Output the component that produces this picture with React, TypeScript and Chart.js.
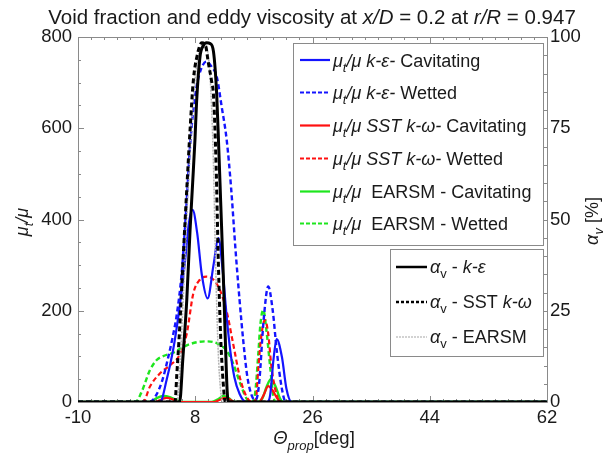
import React, { useEffect, useRef } from 'react';
import { Chart, registerables } from 'chart.js';
Chart.register(...registerables);

const FONT = "'Liberation Sans', Arial, sans-serif";

// ---- axis ticks ----
const xTicks = [-10, 8, 26, 44, 62];
const muTicks = [0, 200, 400, 600, 800];
const alphaTicks = [0, 25, 50, 75, 100];

// ---- eddy viscosity ratio series (left axis) ----
const kEpsCavX = [-10, 2.6, 3.6, 4.6, 5.4, 6.4, 7.0, 7.6, 8.3, 9.0, 9.9, 10.8, 11.55, 12.2, 12.8, 13.4, 14.0, 14.8, 15.8, 19.0, 19.5, 20.0, 20.5, 21.3, 22.0, 22.8, 62];
const kEpsCavY = [0, 0, 48, 114, 187, 304, 390, 421, 370, 280, 227, 300, 359, 290, 190, 110, 55, 18, 0, 0, 15, 92, 138, 99, 29, 0, 0];

const kEpsWetX = [-10, 1.0, 2.0, 3.0, 3.8, 4.5, 5.2, 5.9, 6.6, 7.2, 7.7, 8.2, 8.9, 9.7, 10.5, 11.3, 12.06, 12.83, 13.5, 14.2, 14.8, 15.4, 16.0, 16.8, 17.3, 17.8, 18.5, 19.2, 19.9, 20.5, 21.3, 21.9, 62];
const kEpsWetY = [0, 0, 15, 50, 95, 140, 195, 280, 420, 560, 640, 691, 730, 746, 735, 713, 647, 574, 470, 330, 224, 130, 55, 10, 5, 40, 180, 253, 200, 114, 29, 0, 0];

const sstCavX = [-10, 1.8, 2.7, 3.6, 4.5, 5.4, 10.8, 11.8, 12.6, 13.4, 14.0, 17.8, 18.5, 19.2, 19.9, 20.6, 21.2, 62];
const sstCavY = [0, 0, 5, 9, 6, 0, 0, 5, 9, 5, 0, 0, 15, 35, 25, 8, 0, 0];

const sstWetX = [-10, 0, 1.05, 2.6, 4.1, 5.66, 6.7, 7.7, 8.7, 9.75, 10.8, 11.8, 12.8, 13.8, 14.9, 15.9, 16.8, 17.3, 17.7, 18.1, 18.7, 19.2, 19.7, 20.5, 21.0, 62];
const sstWetY = [0, 0, 34, 63, 80, 105, 150, 238, 268, 275, 268, 245, 200, 129, 51, 11, 0, 5, 77, 140, 180, 150, 77, 15, 0, 0];

const earsmCavX = [-10, 1.0, 2.0, 3.1, 4.2, 5.3, 6.0, 10.5, 11.5, 12.3, 13.2, 14.0, 17.5, 18.3, 19.0, 19.6, 20.3, 21.0, 21.5, 62];
const earsmCavY = [0, 0, 8, 13, 10, 3, 0, 0, 6, 13, 8, 0, 0, 8, 35, 50, 35, 8, 0, 0];

const earsmWetX = [-10, -1.2, -0.3, 1.05, 2.08, 3.0, 4.6, 6.2, 8.2, 9.75, 11.3, 12.3, 12.8, 13.8, 14.9, 15.9, 16.7, 17.2, 17.7, 18.0, 18.45, 18.9, 19.5, 19.9, 20.3, 62];
const earsmWetY = [0, 0, 20, 70, 92, 100, 108, 121, 131, 133, 129, 120, 114, 85, 41, 7, 0, 20, 110, 170, 202, 160, 77, 22, 0, 0];

// ---- void fraction series (right axis, %) ----
const alphaKEpsX = [-10, 5.6, 6.1, 6.7, 7.2, 7.6, 7.96, 8.2, 8.73, 9.2, 9.75, 10.3, 10.8, 11.3, 11.6, 11.9, 12.3, 12.6, 12.9, 13.1, 62];
const alphaKEpsY = [0, 0, 12, 28, 47, 60, 72, 82, 94.6, 97.5, 98.4, 98.2, 96, 84, 70, 55, 35, 18, 3, 0, 0];

const alphaSstX = [-10, 4.9, 5.15, 5.6, 6.1, 6.9, 7.2, 7.7, 8.3, 9.0, 9.6, 10.0, 10.5, 10.8, 11.2, 11.55, 11.9, 12.3, 12.6, 62];
const alphaSstY = [0, 0, 7, 20, 38, 65, 74.5, 88, 95, 98.4, 97.5, 93, 88, 84, 65, 38, 18, 5, 0, 0];

const alphaEarsmX = [-10, 5.2, 5.6, 6.2, 7.0, 7.8, 8.6, 9.4, 10.0, 10.4, 10.8, 11.1, 11.5, 11.9, 12.2, 62];
const alphaEarsmY = [0, 0, 8, 30, 62, 85, 96, 98, 95, 85, 65, 40, 15, 3, 0, 0];

type Part = { t: string; it?: boolean; sub?: boolean };

const BLUE = '#1414ff';
const RED = '#ff1010';
const GREEN = '#1ee61e';

const series = [
  { xs: alphaKEpsX, ys: alphaKEpsY, color: '#000000', width: 3, dash: [] as number[], axis: 'y1' },
  { xs: alphaSstX, ys: alphaSstY, color: '#000000', width: 3, dash: [5, 3], axis: 'y1' },
  { xs: alphaEarsmX, ys: alphaEarsmY, color: '#b4b4b4', width: 1.5, dash: [2, 1], axis: 'y1' },
  { xs: kEpsCavX, ys: kEpsCavY, color: BLUE, width: 2.2, dash: [] as number[], axis: 'y' },
  { xs: kEpsWetX, ys: kEpsWetY, color: BLUE, width: 2.4, dash: [5, 3], axis: 'y' },
  { xs: sstCavX, ys: sstCavY, color: RED, width: 2.2, dash: [] as number[], axis: 'y' },
  { xs: sstWetX, ys: sstWetY, color: RED, width: 2.2, dash: [5, 3], axis: 'y' },
  { xs: earsmCavX, ys: earsmCavY, color: GREEN, width: 2.4, dash: [] as number[], axis: 'y' },
  { xs: earsmWetX, ys: earsmWetY, color: GREEN, width: 2.4, dash: [5, 3], axis: 'y' },
];

const mu: Part[] = [{ t: 'μ', it: true }, { t: 't', it: true, sub: true }, { t: '/μ', it: true }];

const legend1 = [
  { color: BLUE, dash: [] as number[], parts: [...mu, { t: ' k-ε-', it: true }, { t: ' Cavitating' }] },
  { color: BLUE, dash: [4, 2], parts: [...mu, { t: ' k-ε-', it: true }, { t: ' Wetted' }] },
  { color: RED, dash: [] as number[], parts: [...mu, { t: ' SST k-ω-', it: true }, { t: ' Cavitating' }] },
  { color: RED, dash: [4, 2], parts: [...mu, { t: ' SST k-ω-', it: true }, { t: ' Wetted' }] },
  { color: GREEN, dash: [] as number[], parts: [...mu, { t: '  EARSM - Cavitating' }] },
  { color: GREEN, dash: [4, 2], parts: [...mu, { t: '  EARSM - Wetted' }] },
];

const alphaV: Part[] = [{ t: 'α', it: true }, { t: 'v', sub: true }];
const legend2 = [
  { color: '#000000', dash: [] as number[], width: 2.5, parts: [...alphaV, { t: ' - ' }, { t: 'k-ε', it: true }] },
  { color: '#000000', dash: [3, 2], width: 2.5, parts: [...alphaV, { t: ' - SST ' }, { t: 'k-ω', it: true }] },
  { color: '#c4c4c4', dash: [2, 1], width: 1.5, parts: [...alphaV, { t: ' - EARSM' }] },
];

function fontFor(p: Part, size: number) {
  return `${p.it ? 'italic ' : ''}${p.sub ? Math.round(size * 0.72) : size}px ${FONT}`;
}

function drawRich(ctx: CanvasRenderingContext2D, parts: Part[], x: number, y: number, size: number, align: 'left' | 'center') {
  let w = 0;
  for (const p of parts) {
    ctx.font = fontFor(p, size);
    w += ctx.measureText(p.t).width;
  }
  let cx = align === 'center' ? x - w / 2 : x;
  ctx.textAlign = 'left';
  ctx.textBaseline = 'alphabetic';
  for (const p of parts) {
    ctx.font = fontFor(p, size);
    ctx.fillText(p.t, cx, p.sub ? y + size * 0.3 : y);
    cx += ctx.measureText(p.t).width;
  }
}

const decor = {
  id: 'decor',
  beforeDatasetsDraw(chart: any) {
    const { ctx, chartArea: a, scales } = chart;
    ctx.save();
    ctx.strokeStyle = '#8a8a8a';
    ctx.lineWidth = 1;
    ctx.beginPath();
    ctx.rect(Math.round(a.left) + 0.5, Math.round(a.top) + 0.5, Math.round(a.right - a.left), Math.round(a.bottom - a.top));
    ctx.stroke();
    ctx.beginPath();
    for (let v = -10; v <= 62; v += 2) {
      const px = Math.round(scales.x.getPixelForValue(v)) + 0.5;
      const len = (v + 10) % 18 === 0 ? 6 : 3;
      ctx.moveTo(px, a.bottom); ctx.lineTo(px, a.bottom - len);
      ctx.moveTo(px, a.top); ctx.lineTo(px, a.top + len);
    }
    for (let v = 0; v <= 800; v += 50) {
      const py = Math.round(scales.y.getPixelForValue(v)) + 0.5;
      const len = v % 200 === 0 ? 6 : 3;
      ctx.moveTo(a.left, py); ctx.lineTo(a.left + len, py);
    }
    for (let v = 0; v <= 100; v += 5) {
      const py = Math.round(scales.y1.getPixelForValue(v)) + 0.5;
      const len = v % 25 === 0 ? 6 : 3;
      ctx.moveTo(a.right, py); ctx.lineTo(a.right - len, py);
    }
    ctx.stroke();
    ctx.restore();
  },
  afterDraw(chart: any) {
    const { ctx } = chart;
    ctx.save();
    ctx.fillStyle = '#1a1a1a';
    // title
    drawRich(ctx, [
      { t: 'Void fraction and eddy viscosity at ' }, { t: 'x/D', it: true },
      { t: ' = 0.2 at ' }, { t: 'r/R', it: true }, { t: ' = 0.947' },
    ], 312, 24, 20.5, 'center');
    // x axis title
    drawRich(ctx, [{ t: 'Θ', it: true }, { t: 'prop', it: true, sub: true }, { t: '[deg]' }], 314, 444, 18.5, 'center');
    // left axis title
    ctx.save();
    ctx.translate(22, 222);
    ctx.rotate(-Math.PI / 2);
    drawRich(ctx, mu, 0, 6, 18, 'center');
    ctx.restore();
    // right axis title
    ctx.save();
    ctx.translate(592, 221);
    ctx.rotate(-Math.PI / 2);
    drawRich(ctx, [{ t: 'α', it: true }, { t: 'v', it: true, sub: true }, { t: ' [%]' }], 0, 6, 18, 'center');
    ctx.restore();

    // legend 1
    ctx.fillStyle = '#ffffff';
    ctx.fillRect(293, 43, 250, 202);
    ctx.strokeStyle = '#8a8a8a';
    ctx.lineWidth = 1;
    ctx.strokeRect(293.5, 43.5, 250, 202);
    const rows1 = [60, 92.5, 125.5, 158.5, 191.5, 223.5];
    legend1.forEach((e, i) => {
      const y = rows1[i];
      ctx.strokeStyle = e.color;
      ctx.lineWidth = 2.2;
      ctx.setLineDash(e.dash);
      ctx.beginPath(); ctx.moveTo(300, y); ctx.lineTo(330, y); ctx.stroke();
      ctx.setLineDash([]);
      ctx.fillStyle = '#1a1a1a';
      drawRich(ctx, e.parts, 333, y + 6.5, 18, 'left');
    });

    // legend 2
    ctx.fillStyle = '#ffffff';
    ctx.fillRect(390, 249, 153, 107);
    ctx.strokeStyle = '#8a8a8a';
    ctx.lineWidth = 1;
    ctx.strokeRect(390.5, 249.5, 153, 107);
    const rows2 = [267, 302, 337];
    legend2.forEach((e, i) => {
      const y = rows2[i];
      ctx.strokeStyle = e.color;
      ctx.lineWidth = e.width;
      ctx.setLineDash(e.dash);
      ctx.beginPath(); ctx.moveTo(396, y); ctx.lineTo(427, y); ctx.stroke();
      ctx.setLineDash([]);
      ctx.fillStyle = '#1a1a1a';
      drawRich(ctx, e.parts, 430, y + 6, 18, 'left');
    });
    ctx.restore();
  },
};

export default function App() {
  const ref = useRef<HTMLCanvasElement | null>(null);
  useEffect(() => {
    document.body.style.margin = '0';
    const canvas = ref.current!;
    const tickFont = { family: FONT, size: 18.5 };
    const chart = new Chart(canvas, {
      type: 'line',
      data: {
        datasets: series.map((s) => ({
          data: s.xs.map((x, i) => ({ x, y: s.ys[i] })),
          borderColor: s.color,
          borderWidth: s.width,
          borderDash: s.dash,
          pointRadius: 0,
          fill: false,
          cubicInterpolationMode: 'monotone' as const,
          yAxisID: s.axis,
        })),
      },
      options: {
        animation: false,
        responsive: false,
        devicePixelRatio: 1,
        layout: { padding: { top: 37, left: 0, right: 0, bottom: 0 } },
        plugins: { legend: { display: false }, tooltip: { enabled: false }, title: { display: false } },
        scales: {
          x: {
            type: 'linear', min: -10, max: 62,
            afterBuildTicks: (s: any) => { s.ticks = xTicks.map((v) => ({ value: v })); },
            afterFit: (s: any) => { s.height = 55; },
            grid: { display: false, drawTicks: false },
            border: { display: false },
            ticks: { font: tickFont, color: '#1a1a1a', padding: 5, maxRotation: 0, autoSkip: false },
          },
          y: {
            type: 'linear', position: 'left', min: 0, max: 800,
            afterBuildTicks: (s: any) => { s.ticks = muTicks.map((v) => ({ value: v })); },
            afterFit: (s: any) => { s.width = 78; },
            grid: { display: false, drawTicks: false },
            border: { display: false },
            ticks: { font: tickFont, color: '#1a1a1a', padding: 6 },
          },
          y1: {
            type: 'linear', position: 'right', min: 0, max: 100,
            afterBuildTicks: (s: any) => { s.ticks = alphaTicks.map((v) => ({ value: v })); },
            afterFit: (s: any) => { s.width = 67; },
            grid: { display: false, drawTicks: false },
            border: { display: false },
            ticks: { font: tickFont, color: '#1a1a1a', padding: 3 },
          },
        },
      },
      plugins: [decor],
    } as any);
    return () => chart.destroy();
  }, []);
  return (
    <div style={{ position: 'fixed', left: 0, top: 0, width: 614, height: 457, background: '#fff' }}>
      <canvas ref={ref} width={614} height={457} style={{ display: 'block' }} />
    </div>
  );
}
